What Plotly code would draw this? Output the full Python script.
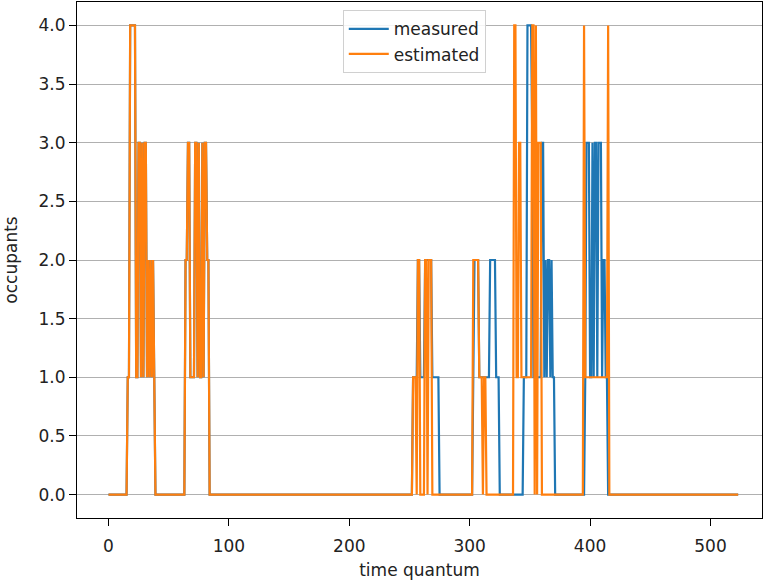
import plotly.graph_objects as go

# time quantum / occupants (only the break points of each step series are listed;
# flat runs between listed points are straight lines, exactly as in the plot)
est_t = [0, 15, 16, 17, 18, 19, 20, 21, 22, 23, 24, 25, 26, 27, 28, 29, 30, 31, 32, 33, 34, 35, 36, 37, 38, 39,
         63, 64, 65, 66, 67, 68, 69, 70, 71, 72, 73, 74, 75, 76, 77, 78, 79, 80, 81, 82, 83, 84,
         252, 253, 254, 255, 256, 257, 258, 259, 262, 263, 264, 265, 266, 267, 268, 269,
         302, 303, 304, 305, 306, 307, 308, 309, 310, 311, 312, 313, 314,
         336, 337, 338, 339, 340, 341, 342, 343, 351, 352, 353, 354, 355, 356, 357, 358, 359, 360,
         394, 395, 396, 414, 415, 416, 523]
est_v = [0, 0, 1, 1, 4, 4, 4, 4, 4, 1, 1, 3, 3, 1, 3, 1, 3, 3, 1, 2, 1, 2, 1, 2, 1, 0,
         0, 2, 2, 3, 3, 1, 1, 1, 1, 3, 3, 1, 3, 1, 1, 3, 1, 3, 3, 2, 2, 0,
         0, 1, 1, 1, 0, 2, 2, 0, 0, 2, 2, 0, 2, 2, 2, 0,
         0, 2, 2, 2, 2, 2, 1, 1, 1, 0, 1, 1, 0,
         0, 4, 4, 1, 1, 3, 3, 1, 1, 4, 4, 0, 4, 0, 3, 3, 3, 0,
         0, 4, 1, 1, 4, 0, 0]

meas_t = [0, 15, 16, 17, 18, 19, 20, 21, 22, 23, 24, 25, 26, 27, 28, 29, 30, 31, 32, 33, 34, 35, 36, 37, 38, 39,
          63, 64, 65, 66, 67, 68, 69, 70, 71, 72, 73, 74, 75, 76, 77, 78, 79, 80, 81, 82, 83, 84,
          252, 253, 256, 257, 258, 259, 262, 263, 268, 269, 274, 275,
          302, 303, 304, 307, 308, 316, 317, 321, 322, 324, 325,
          344, 345, 347, 348, 351, 352, 353, 359, 360, 361, 362, 363, 364, 365, 366, 367, 368, 369, 370, 371,
          395, 396, 397, 399, 400, 401, 402, 403, 404, 405, 406, 407, 409, 410, 411, 412, 413, 414, 415, 523]
meas_v = [0, 0, 1, 1, 4, 4, 4, 4, 4, 1, 1, 3, 3, 1, 3, 1, 3, 3, 1, 2, 1, 2, 1, 2, 1, 0,
          0, 2, 2, 3, 3, 1, 1, 1, 1, 3, 3, 1, 3, 1, 1, 3, 1, 3, 3, 2, 2, 0,
          0, 1, 1, 2, 2, 1, 1, 2, 2, 1, 1, 0,
          0, 1, 2, 2, 1, 1, 2, 2, 1, 1, 0,
          0, 1, 1, 4, 4, 3, 1, 1, 3, 3, 1, 2, 1, 2, 2, 1, 2, 1, 1, 0,
          0, 1, 3, 3, 1, 1, 3, 1, 3, 3, 1, 3, 3, 1, 2, 2, 1, 1, 0, 0]

x_ticks = [0, 100, 200, 300, 400, 500]
y_ticks = [0.0, 0.5, 1.0, 1.5, 2.0, 2.5, 3.0, 3.5, 4.0]

FONT = "DejaVu Sans"

fig = go.Figure()
fig.add_trace(go.Scatter(x=meas_t, y=meas_v, mode="lines", name="measured",
                         line=dict(color="#1f77b4", width=2.2)))
fig.add_trace(go.Scatter(x=est_t, y=est_v, mode="lines", name="estimated",
                         line=dict(color="#ff7f0e", width=2.2)))

fig.update_layout(
    width=763, height=582,
    margin=dict(l=77, r=1, t=2, b=64),
    paper_bgcolor="white", plot_bgcolor="white",
    font=dict(family=FONT, size=17, color="#222222"),
    showlegend=True,
    legend=dict(x=0.388, y=0.984, xanchor="left", yanchor="top",
                bgcolor="rgba(255,255,255,0.85)", bordercolor="#d0d0d0", borderwidth=1,
                font=dict(family=FONT, size=17, color="#222222"),
                tracegroupgap=0, itemwidth=40, entrywidth=120),
    xaxis=dict(range=[-26.16, 542.8], tickvals=x_ticks, showgrid=False, zeroline=False,
               showline=True, linecolor="black", linewidth=1, mirror=True,
               ticks="outside", ticklen=7, tickcolor="black", ticklabelstandoff=6,
               automargin=False,
               title=dict(text="time quantum", standoff=8, font=dict(size=17))),
    yaxis=dict(range=[-0.2, 4.2], tickvals=y_ticks, tickformat=".1f",
               showgrid=True, gridcolor="#b0b0b0", gridwidth=1, zeroline=False,
               showline=True, linecolor="black", linewidth=1, mirror=True,
               ticks="outside", ticklen=7, tickcolor="black",
               automargin=False,
               title=dict(text="occupants", standoff=16, font=dict(size=17))),
)

fig.write_html("out.html", config={"displayModeBar": False},
               post_script="document.body.style.margin='0px';")
